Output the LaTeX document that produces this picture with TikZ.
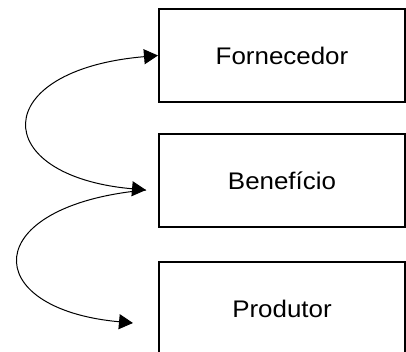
\documentclass[tikz,border=0pt]{standalone}
\usepackage{fontspec}
\setmainfont{Liberation Sans}[FakeStretch=1.08]
\usetikzlibrary{arrows.meta}
\begin{document}
\begin{tikzpicture}[x=1pt,y=-1pt,
  boxst/.style={draw, line width=2pt, minimum width=246pt, minimum height=93pt, inner sep=0pt,
    font=\fontsize{24pt}{28pt}\selectfont, anchor=north west},
  curvest/.style={line width=1pt},
  bothtips/.style={{Triangle[length=14pt,width=15pt]}-{Triangle[length=14pt,width=15pt]}},
  endtip/.style={-{Triangle[length=14pt,width=15pt]}}]
\useasboundingbox (0,0) rectangle (406,352);
\clip (0,0) rectangle (406,352);
\node[boxst] (forn) at (158,8) {Fornecedor};
\node[boxst] (bene) at (158,133) {Benefício};
\node[boxst] (prod) at (158,261) {Produtor};
\coordinate (b1) at (146,190);
\coordinate (p1) at (133,323);
\draw[curvest, bothtips] (b1) .. controls (-12,176) and (-12,70) .. (forn.west);
\draw[curvest, endtip] (b1) .. controls (-22,205) and (-22,309) .. (p1);
\end{tikzpicture}
\end{document}
